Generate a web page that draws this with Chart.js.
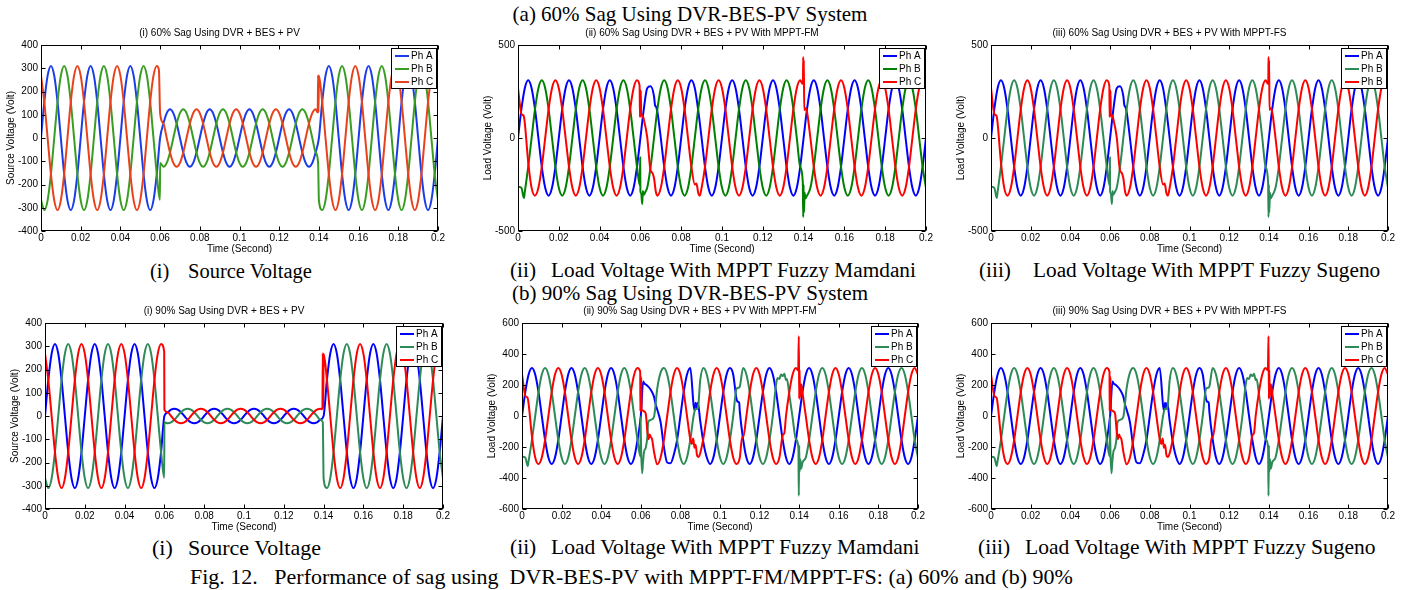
<!DOCTYPE html>
<html><head><meta charset="utf-8">
<script src="https://cdn.jsdelivr.net/npm/chart.js@4.4.1/dist/chart.umd.min.js"></script>
<style>
html,body{margin:0;padding:0;background:#fff;width:1407px;height:590px;overflow:hidden;}
#page{position:relative;width:1407px;height:590px;overflow:hidden;background:#fff;}
canvas{position:absolute;}
.cap{position:absolute;font-family:'Liberation Serif','Times New Roman',serif;color:#000;white-space:pre;line-height:1;}
</style></head><body><div id="page">
<div class="cap" style="left:0;width:1380px;text-align:center;top:4px;font-size:21px">(a) 60% Sag Using DVR-BES-PV System</div>
<div class="cap" style="left:0;width:1380px;text-align:center;top:283px;font-size:21px">(b) 90% Sag Using DVR-BES-PV System</div>
<div class="cap" style="left:150px;top:261px;font-size:20.5px">(i)</div>
<div class="cap" style="left:188px;top:261px;font-size:20.5px">Source Voltage</div>
<div class="cap" style="left:510px;top:260px;font-size:21.3px">(ii)</div>
<div class="cap" style="left:551px;top:260px;font-size:21.3px">Load Voltage With MPPT Fuzzy Mamdani</div>
<div class="cap" style="left:979px;top:260px;font-size:21.3px">(iii)</div>
<div class="cap" style="left:1033px;top:260px;font-size:21.3px">Load Voltage With MPPT Fuzzy Sugeno</div>
<div class="cap" style="left:152px;top:537px;font-size:22px">(i)</div>
<div class="cap" style="left:188px;top:537px;font-size:22px">Source Voltage</div>
<div class="cap" style="left:510px;top:537px;font-size:21.5px">(ii)</div>
<div class="cap" style="left:551px;top:537px;font-size:21.5px">Load Voltage With MPPT Fuzzy Mamdani</div>
<div class="cap" style="left:978px;top:537px;font-size:21.5px">(iii)</div>
<div class="cap" style="left:1025px;top:537px;font-size:21.5px">Load Voltage With MPPT Fuzzy Sugeno</div>
<div class="cap" style="left:190px;top:566px;font-size:22px">Fig. 12.   Performance of sag using  DVR-BES-PV with MPPT-FM/MPPT-FS: (a) 60% and (b) 90%</div>
</div>
<script>
// ---------- sampling grid (every 1/12 of a 50 Hz cycle) ----------
const timeGrid = Array.from({length: 121}, (_, k) => k / 600);

// ---------- tick labels ----------
const xTickLabels = ['0','0.02','0.04','0.06','0.08','0.1','0.12','0.14','0.16','0.18','0.2'];
const yTicksSource = ['-400','-300','-200','-100','0','100','200','300','400'];
const yTicksLoad60 = ['-500','0','500'];
const yTicksLoad90 = ['-600','-400','-200','0','200','400','600'];

// ---------- (a)(i) source voltage, 60% sag ----------
const srcA60 = [
 0,155,268,310,268,155,0,-155,-268,-310,-268,-155,
 0,155,268,310,268,155,0,-155,-268,-310,-268,-155,
 0,155,268,310,268,155,0,-155,-268,-310,-268,-155,
 0,62,107,124,107,62,0,-62,-107,-124,-107,-62,
 0,62,107,124,107,62,0,-62,-107,-124,-107,-62,
 0,62,107,124,107,62,0,-62,-107,-124,-107,-62,
 0,62,107,124,107,62,0,-62,-107,-124,-107,-62,
 0,155,268,310,268,155,0,-155,-268,-310,-268,-155,
 0,155,268,310,268,155,0,-155,-268,-310,-268,-155,
 0,155,268,310,268,155,0,-155,-268,-310,-268,-155,
 0];
const srcB60 = [
 -268,-310,-268,-155,0,155,268,310,268,155,0,-155,
 -268,-310,-268,-155,0,155,268,310,268,155,0,-155,
 -268,-310,-268,-155,0,155,268,310,268,155,0,-155,
 -107,-124,-107,-62,0,62,107,124,107,62,0,-62,
 -107,-124,-107,-62,0,62,107,124,107,62,0,-62,
 -107,-124,-107,-62,0,62,107,124,107,62,0,-62,
 -107,-124,-107,-62,0,62,107,124,107,62,0,-62,
 -268,-310,-268,-155,0,155,268,310,268,155,0,-155,
 -268,-310,-268,-155,0,155,268,310,268,155,0,-155,
 -268,-310,-268,-155,0,155,268,310,268,155,0,-155,
 -268];
const srcC60 = [
 268,155,0,-155,-268,-310,-268,-155,0,155,268,310,
 268,155,0,-155,-268,-310,-268,-155,0,155,268,310,
 268,155,0,-155,-268,-310,-268,-155,0,155,268,310,
 107,62,0,-62,-107,-124,-107,-62,0,62,107,124,
 107,62,0,-62,-107,-124,-107,-62,0,62,107,124,
 107,62,0,-62,-107,-124,-107,-62,0,62,107,124,
 107,62,0,-62,-107,-124,-107,-62,0,62,107,124,
 268,155,0,-155,-268,-310,-268,-155,0,155,268,310,
 268,155,0,-155,-268,-310,-268,-155,0,155,268,310,
 268,155,0,-155,-268,-310,-268,-155,0,155,268,310,
 268];
const srcB60Jumps = [[0.0599,-266],[0.1396,-107]];
const srcC60Jumps = [[0.0594,293],[0.1394,110],[0.1396,270],[0.1398,110]];

// ---------- (b)(i) source voltage, 90% sag ----------
const srcA90 = [
 0,155,268,310,268,155,0,-155,-268,-310,-268,-155,
 0,155,268,310,268,155,0,-155,-268,-310,-268,-155,
 0,155,268,310,268,155,0,-155,-268,-310,-268,-155,
 0,16,27,31,27,16,0,-16,-27,-31,-27,-16,
 0,16,27,31,27,16,0,-16,-27,-31,-27,-16,
 0,16,27,31,27,16,0,-16,-27,-31,-27,-16,
 0,16,27,31,27,16,0,-16,-27,-31,-27,-16,
 0,155,268,310,268,155,0,-155,-268,-310,-268,-155,
 0,155,268,310,268,155,0,-155,-268,-310,-268,-155,
 0,155,268,310,268,155,0,-155,-268,-310,-268,-155,
 0];
const srcB90 = [
 -268,-310,-268,-155,0,155,268,310,268,155,0,-155,
 -268,-310,-268,-155,0,155,268,310,268,155,0,-155,
 -268,-310,-268,-155,0,155,268,310,268,155,0,-155,
 -27,-31,-27,-16,0,16,27,31,27,16,0,-16,
 -27,-31,-27,-16,0,16,27,31,27,16,0,-16,
 -27,-31,-27,-16,0,16,27,31,27,16,0,-16,
 -27,-31,-27,-16,0,16,27,31,27,16,0,-16,
 -268,-310,-268,-155,0,155,268,310,268,155,0,-155,
 -268,-310,-268,-155,0,155,268,310,268,155,0,-155,
 -268,-310,-268,-155,0,155,268,310,268,155,0,-155,
 -268];
const srcC90 = [
 268,155,0,-155,-268,-310,-268,-155,0,155,268,310,
 268,155,0,-155,-268,-310,-268,-155,0,155,268,310,
 268,155,0,-155,-268,-310,-268,-155,0,155,268,310,
 27,16,0,-16,-27,-31,-27,-16,0,16,27,31,
 27,16,0,-16,-27,-31,-27,-16,0,16,27,31,
 27,16,0,-16,-27,-31,-27,-16,0,16,27,31,
 27,16,0,-16,-27,-31,-27,-16,0,16,27,31,
 268,155,0,-155,-268,-310,-268,-155,0,155,268,310,
 268,155,0,-155,-268,-310,-268,-155,0,155,268,310,
 268,155,0,-155,-268,-310,-268,-155,0,155,268,310,
 268];
const srcB90Jumps = [[0.0599,-266],[0.1396,-27]];
const srcC90Jumps = [[0.0599,276],[0.1394,29],[0.1396,270],[0.1398,30]];

// ---------- (a)(ii)/(iii) load voltage, 60% sag ----------
const load60A = [
 0,155,268,310,268,155,0,-155,-268,-310,-268,-155,
 0,155,268,310,268,155,0,-155,-268,-310,-268,-155,
 0,155,268,310,268,155,0,-155,-268,-310,-268,-155,
 0,155,268,278,225,140,0,-155,-268,-310,-268,-155,
 0,155,268,310,268,150,0,-155,-268,-310,-268,-155,
 0,155,268,310,268,155,0,-155,-268,-310,-268,-155,
 0,155,268,310,268,155,0,-155,-268,-310,-268,-155,
 0,155,268,310,268,155,0,-155,-268,-310,-268,-155,
 0,155,268,310,268,155,0,-155,-268,-310,-268,-155,
 0,155,268,310,268,155,0,-155,-268,-310,-268,-155,
 0];
const load60AExtra = [[0.0672,175],[0.0677,168]];
const load60B = [
 -262,-268,-290,-155,0,155,268,310,268,155,0,-155,
 -268,-310,-268,-155,0,155,268,310,268,155,0,-155,
 -268,-310,-268,-155,0,155,268,310,268,155,0,-155,
 -285,-305,-268,-155,0,155,268,310,268,155,0,-155,
 -268,-310,-268,-155,0,155,268,310,268,155,0,-155,
 -268,-310,-268,-155,0,155,268,310,268,155,0,-155,
 -268,-310,-268,-155,0,155,268,310,268,155,0,-155,
 -250,-310,-268,-155,0,155,268,310,268,155,0,-155,
 -268,-310,-268,-155,0,155,268,310,268,155,0,-155,
 -268,-310,-268,-155,0,155,268,310,268,155,0,-155,
 -268];
const load60BExtra = [[0.0029,-322],[0.0597,-255],[0.0599,-105],[0.0604,-300],[0.0609,-355],[0.0612,-285],[0.0624,-290],
 [0.1396,-238],[0.1398,-425],[0.1402,-400],[0.1405,-295],[0.1409,-325]];
const load60C = [
 268,130,80,-130,-268,-310,-268,-155,0,155,268,310,
 268,155,0,-155,-268,-310,-268,-155,0,155,268,310,
 268,155,0,-155,-268,-310,-268,-155,0,155,268,310,
 115,100,5,-175,-215,-310,-268,-155,0,155,268,310,
 268,155,0,-155,-250,-295,-268,-155,0,155,268,310,
 268,155,0,-155,-268,-310,-268,-155,0,155,268,310,
 268,155,0,-155,-268,-310,-268,-155,0,155,268,310,
 300,140,0,-155,-268,-310,-268,-155,0,155,268,310,
 268,155,0,-155,-268,-310,-268,-155,0,155,268,310,
 268,155,0,-155,-268,-310,-268,-155,0,155,268,310,
 268];
const load60CExtra = [[0.0028,118],[0.0596,282],[0.0598,112],[0.0599,258],[0.0602,255],[0.0604,120],[0.061,122],
 [0.0657,-185],[0.0675,-285],[0.0874,-245],[0.0878,-258],[0.0891,-310],
 [0.1395,292],[0.1397,300],[0.1398,435],[0.1401,420],[0.1403,150],[0.141,160]];

// ---------- (b)(ii)/(iii) load voltage, 90% sag ----------
const load90A = [
 0,155,268,310,268,155,0,-155,-268,-310,-268,-155,
 0,155,268,310,268,155,0,-155,-268,-310,-268,-155,
 0,155,268,310,268,155,0,-155,-268,-310,-268,-155,
 0,212,195,170,125,40,-40,-200,-300,-305,-250,-155,
 0,155,268,310,70,60,-30,-175,-268,-310,-268,-155,
 0,155,268,310,268,110,30,-150,-268,-310,-268,-155,
 0,155,268,310,268,155,0,-155,-268,-310,-268,-155,
 0,155,268,310,268,155,0,-155,-268,-310,-268,-155,
 0,155,268,310,268,155,0,-155,-268,-310,-268,-155,
 0,155,268,310,268,155,0,-155,-268,-310,-268,-155,
 0];
const load90AExtra = [[0.0612,222],[0.0675,75],[0.0872,35],[0.0877,85],[0.088,55],[0.0888,85],[0.109,92],[0.1097,85]];
const load90B = [
 -262,-268,-290,-155,0,155,268,310,268,155,0,-155,
 -268,-310,-268,-155,0,155,268,310,268,155,0,-155,
 -268,-310,-268,-155,0,155,268,310,268,155,0,-155,
 -100,-230,-130,-25,-5,180,280,310,268,155,0,-155,
 -268,-310,-268,-155,0,45,230,310,268,155,0,-155,
 -268,-310,-268,-155,0,175,190,310,268,155,0,-155,
 -268,-310,-268,-155,0,205,238,258,232,140,-10,-150,
 -190,-300,-268,-155,0,155,268,310,268,155,0,-155,
 -268,-310,-268,-155,0,155,268,310,268,155,0,-155,
 -268,-310,-268,-155,0,155,268,310,268,155,0,-155,
 -268];
const load90BExtra = [[0.0029,-322],[0.0598,-262],[0.0599,-5],[0.0602,-240],[0.0607,-370],[0.0611,-300],[0.0625,-205],[0.0637,-40],
 [0.0877,48],[0.089,62],[0.1093,182],[0.1291,245],[0.1308,268],[0.1325,272],[0.1338,238],
 [0.1396,-205],[0.1398,-515],[0.1402,-360],[0.1406,-280],[0.141,-340]];
const load90C = [
 268,130,80,-130,-268,-310,-268,-155,0,155,268,310,
 268,155,0,-155,-268,-310,-268,-155,0,155,268,310,
 268,155,0,-155,-268,-310,-268,-155,0,155,268,310,
 60,30,-100,-135,-230,-312,-268,-155,0,155,268,310,
 268,155,0,-150,-160,-250,-240,-140,0,155,268,310,
 268,155,0,-155,-268,-310,-268,-140,0,155,268,310,
 268,155,0,-155,-268,-310,-268,-125,0,155,268,310,
 110,150,0,-155,-268,-310,-268,-155,0,155,268,310,
 268,155,0,-155,-268,-310,-268,-155,0,155,268,310,
 268,155,0,-155,-268,-310,-268,-155,0,155,268,310,
 268];
const load90CExtra = [[0.0028,118],[0.0597,285],[0.0598,30],[0.0599,260],[0.0602,250],[0.0604,40],[0.061,35],[0.0625,15],
 [0.064,-150],[0.0645,-120],[0.0657,-150],[0.0858,-180],[0.0864,-145],[0.0871,-205],[0.0877,-185],[0.089,-265],
 [0.1112,-135],[0.1325,-110],[0.1395,295],[0.1398,515],[0.1402,300],[0.1404,120],[0.141,205]];

// ---------- labels / colours ----------
const legendABC = ['Ph A','Ph B','Ph C'];
const legendABB = ['Ph A','Ph B','Ph B'];
const colorsSrc60 = ['#1b3de8','#3a9d23','#e8421c'];
const colorsFM60 = ['#0000ff','#008000','#ff0000'];
const colorsSea = ['#0000ff','#2e8b57','#ff0000'];
const plotTitles = [
 '(i) 60% Sag Using DVR + BES + PV',
 '(ii) 60% Sag Using DVR + BES + PV With MPPT-FM',
 '(iii) 60% Sag Using DVR + BES + PV With MPPT-FS',
 '(i) 90% Sag Using DVR + BES + PV',
 '(ii) 90% Sag Using DVR + BES + PV With MPPT-FM',
 '(iii) 90% Sag Using DVR + BES + PV With MPPT-FS'];

const panels = [
 {box:[41,45,438,231], title:plotTitles[0], yTitle:'Source Voltage (Volt)', y:[-400,400,100], yLabels:yTicksSource,
  series:[[srcA60,[]],[srcB60,srcB60Jumps],[srcC60,srcC60Jumps]], colors:colorsSrc60, legend:legendABC},
 {box:[518,45,926,231], title:plotTitles[1], yTitle:'Load Voltage (Volt)', y:[-500,500,500], yLabels:yTicksLoad60,
  series:[[load60A,load60AExtra],[load60B,load60BExtra],[load60C,load60CExtra]], colors:colorsFM60, legend:legendABC},
 {box:[991,45,1388,231], title:plotTitles[2], yTitle:'Load Voltage (Volt)', y:[-500,500,500], yLabels:yTicksLoad60,
  series:[[load60A,load60AExtra],[load60B,load60BExtra],[load60C,load60CExtra]], colors:colorsSea, legend:legendABB},
 {box:[45,323,443,509], title:plotTitles[3], yTitle:'Source Voltage (Volt)', y:[-400,400,100], yLabels:yTicksSource,
  series:[[srcA90,[]],[srcB90,srcB90Jumps],[srcC90,srcC90Jumps]], colors:colorsSea, legend:legendABC},
 {box:[522,323,918,509], title:plotTitles[4], yTitle:'Load Voltage (Volt)', y:[-600,600,200], yLabels:yTicksLoad90,
  series:[[load90A,load90AExtra],[load90B,load90BExtra],[load90C,load90CExtra]], colors:colorsSea, legend:legendABC},
 {box:[991,323,1388,509], title:plotTitles[5], yTitle:'Load Voltage (Volt)', y:[-600,600,200], yLabels:yTicksLoad90,
  series:[[load90A,load90AExtra],[load90B,load90BExtra],[load90C,load90CExtra]], colors:colorsSea, legend:legendABC}
];

const FONT = "'Liberation Sans', Arial, sans-serif";
const Y_AXIS_W = 40, X_AXIS_H = 24, TITLE_H = 20, RIGHT_PAD = 40;

function buildPoints(values, extra){
  const pts = values.map((v, k) => ({x: timeGrid[k], y: v}));
  extra.forEach(([t, v]) => pts.push({x: t, y: v}));
  pts.sort((a, b) => a.x - b.x);
  return pts;
}

const framePlugin = {
  id: 'frameLegend',
  afterDatasetsDraw(chart){
    const {ctx, chartArea: ca, scales} = chart;
    const L = Math.round(ca.left) + 0.5, R = Math.round(ca.right) - 0.5;
    const T = Math.round(ca.top) + 0.5, B = Math.round(ca.bottom) - 0.5;
    ctx.save();
    ctx.strokeStyle = '#000'; ctx.lineWidth = 1;
    ctx.beginPath();
    scales.x.ticks.forEach(t => {
      const px = Math.round(scales.x.getPixelForValue(t.value)) + 0.5;
      ctx.moveTo(px, B); ctx.lineTo(px, B - 4);
      ctx.moveTo(px, T); ctx.lineTo(px, T + 4);
    });
    scales.y.ticks.forEach(t => {
      const py = Math.round(scales.y.getPixelForValue(t.value)) + 0.5;
      ctx.moveTo(L, py); ctx.lineTo(L + 4, py);
      ctx.moveTo(R, py); ctx.lineTo(R - 4, py);
    });
    ctx.stroke();
    ctx.strokeRect(L, T, R - L, B - T);
    // legend box (top-right, inside axes)
    const w = 45, h = 40;
    const lx = Math.round(ca.right) - 2 - w, ly = Math.round(ca.top) + 3;
    ctx.fillStyle = '#fff'; ctx.fillRect(lx, ly, w, h);
    ctx.strokeStyle = '#000'; ctx.lineWidth = 1;
    ctx.strokeRect(lx + 0.5, ly + 0.5, w, h);
    ctx.font = '10px ' + FONT; ctx.textBaseline = 'middle'; ctx.textAlign = 'left';
    chart.data.datasets.forEach((ds, i) => {
      const cy = ly + 8 + i * 13;
      ctx.strokeStyle = ds.borderColor; ctx.lineWidth = 2;
      ctx.beginPath(); ctx.moveTo(lx + 4, cy); ctx.lineTo(lx + 18, cy); ctx.stroke();
      ctx.fillStyle = '#000'; ctx.fillText(ds.label, lx + 20, cy + 0.5);
    });
    ctx.restore();
  }
};

const page = document.getElementById('page');
panels.forEach(p => {
  const [L, T, R, B] = p.box;
  const cv = document.createElement('canvas');
  const W = (R - L) + Y_AXIS_W + RIGHT_PAD, H = (B - T) + TITLE_H + X_AXIS_H;
  cv.width = W; cv.height = H;
  cv.style.left = (L - Y_AXIS_W) + 'px'; cv.style.top = (T - TITLE_H) + 'px';
  cv.style.width = W + 'px'; cv.style.height = H + 'px';
  page.appendChild(cv);
  const datasets = p.series.map((s, i) => ({
    label: p.legend[i],
    data: buildPoints(s[0], s[1]),
    borderColor: p.colors[i],
    backgroundColor: p.colors[i],
    borderWidth: 2,
    pointRadius: 0,
    fill: false,
    cubicInterpolationMode: 'monotone',
    order: 2 - i
  }));
  new Chart(cv, {
    type: 'line',
    data: {datasets},
    options: {
      responsive: false, animation: false, devicePixelRatio: 1,
      layout: {padding: {left: 0, right: RIGHT_PAD, top: 0, bottom: 0}},
      plugins: {
        legend: {display: false}, tooltip: {enabled: false},
        title: {display: true, text: p.title, color: '#000',
          font: {family: FONT, size: 10, weight: 'normal'}, padding: {top: 2, bottom: 6}}
      },
      scales: {
        x: {
          type: 'linear', min: 0, max: 0.2,
          afterFit: s => { s.height = X_AXIS_H; },
          grid: {display: false, drawTicks: false}, border: {display: false},
          ticks: {stepSize: 0.02, autoSkip: false, maxRotation: 0, padding: 1, color: '#000',
            font: {family: FONT, size: 10}, callback: (v, i) => xTickLabels[i]},
          title: {display: true, text: 'Time (Second)', color: '#000',
            font: {family: FONT, size: 10}, padding: {top: 0, bottom: 0}}
        },
        y: {
          type: 'linear', min: p.y[0], max: p.y[1],
          afterFit: s => { s.width = Y_AXIS_W; },
          grid: {display: false, drawTicks: false}, border: {display: false},
          ticks: {stepSize: p.y[2], autoSkip: false, padding: 3, color: '#000',
            font: {family: FONT, size: 10}, callback: (v, i) => p.yLabels[i]},
          title: {display: true, text: p.yTitle, color: '#000',
            font: {family: FONT, size: 10}, padding: {top: 4, bottom: 0}}
        }
      }
    },
    plugins: [framePlugin]
  });
});
</script>
</body></html>
